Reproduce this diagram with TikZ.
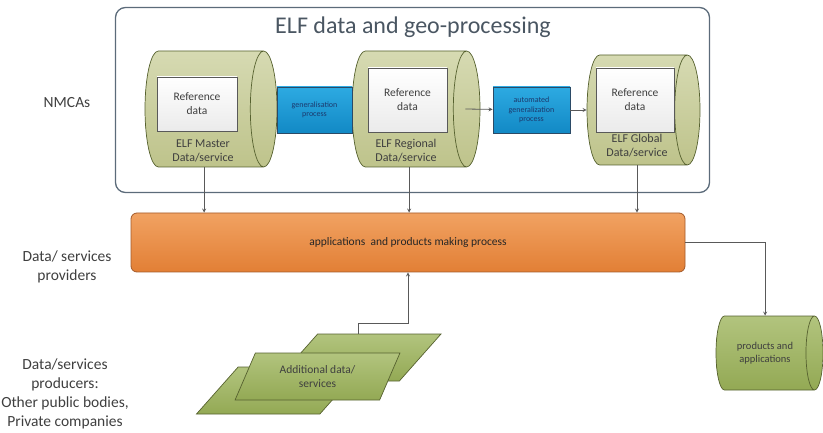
\documentclass[tikz,border=0pt]{standalone}
\usepackage{fontspec}
\setmainfont{Carlito}
\usepackage{tikz}
\usetikzlibrary{shapes.geometric}
\definecolor{edgegray}{HTML}{5C6B7A}
\definecolor{linegray}{HTML}{595959}
\definecolor{labgray}{HTML}{3F3F3F}
\definecolor{drumedge}{HTML}{56612F}
\definecolor{paletop}{HTML}{D6DAB2}
\definecolor{palebot}{HTML}{BEC38B}
\definecolor{olivetop}{HTML}{B2C47E}
\definecolor{olivebot}{HTML}{93A954}
\definecolor{bluetop}{HTML}{2DAAE2}
\definecolor{bluebot}{HTML}{1289C5}
\definecolor{blueedge}{HTML}{2B4A66}
\definecolor{bluetext}{HTML}{1C3A6E}
\definecolor{orangetop}{HTML}{F1A262}
\definecolor{orangebot}{HTML}{E27F35}
\definecolor{orangeedge}{HTML}{A35A2A}
\tikzset{%
	drum/.style={cylinder,aspect=0.23,anchor=shape center,draw=drumedge,line width=0.7pt,inner sep=0pt,name=#1},
	pale/.style={top color=paletop,bottom color=palebot},
	olive/.style={top color=olivetop,bottom color=olivebot},
	refbox/.style={rectangle,draw=linegray,line width=0.7pt,top color=white,bottom color=black!8,
		align=center,font=\fontsize{11.5}{14}\selectfont,text=labgray,name=#1},
	drumtext/.style={align=center,font=\fontsize{12}{14}\selectfont,text=labgray,name=#1},
	process/.style={rectangle,draw=blueedge,line width=0.7pt,top color=bluetop,bottom color=bluebot,
		minimum height=46,inner sep=0pt,align=center,font=\fontsize{8}{9.5}\selectfont,text=bluetext,name=#1},
	slab/.style={trapezium,trapezium left angle=63,trapezium right angle=117,trapezium stretches=true,
		minimum width=165,minimum height=47,inner sep=2pt,draw=drumedge,line width=0.7pt,olive,name=#1}
}

\begin{document}
\begin{tikzpicture}[x=1pt,y=-1pt,>=stealth,
		arr/.style={->,draw=linegray,line width=0.8pt},
		side/.style={align=center,font=\fontsize{15.5}{19}\selectfont,text=labgray,name=#1}]
	\useasboundingbox (0,0) rectangle (823,433);
	\node [draw=edgegray,line width=1.3pt,rounded corners=10pt,minimum width=594,minimum height=185,name=outer] at (412.5,100) {};
	\node [font=\fontsize{24}{28}\selectfont,text=edgegray!80!black,name=title] at (413,27) {ELF data and geo-processing};
	\node [side=nmca] at (67,103) {NMCAs};
	\node [side=prov] at (67,267) {Data/ services\\providers};
	\node [side=maker] at (65,394) {Data/services\\producers:\\Other public bodies,\\Private companies};
	\node [drum=master,pale,text height=58pt,text depth=58pt,minimum height=132] at (211,109) {};
	\node [drum=regional,pale,text height=58pt,text depth=58pt,minimum height=128] at (416,109) {};
	\node [drum=global,pale,text height=55pt,text depth=55pt,minimum height=113] at (643.5,110) {};
	\node [refbox=mref,minimum width=80,minimum height=54] at (197,104) {Reference\\data};
	\node [refbox=rref,minimum width=79,minimum height=64] at (407.5,100) {Reference\\data};
	\node [refbox=gref,minimum width=78,minimum height=64] at (635,100) {Reference\\data};
	\node [drumtext=mtxt] at (203,151) {ELF Master\\Data/service};
	\node [drumtext=rtxt] at (406,151) {ELF Regional\\Data/service};
	\node [drumtext=gtxt] at (637,146) {ELF Global\\Data/service};
	\node [process=gen,minimum width=75] at (314.5,110) {generalisation\\process};
	\node [process=autogen,minimum width=77] at (531.5,110) {automated\\generalization\\process};
	\draw [arr] ([xshift=-15pt]regional.east) -- (autogen);
	\draw [arr] (autogen) -- (global);
	\node [rectangle,draw=orangeedge,line width=0.8pt,rounded corners=6pt,top color=orangetop,bottom color=orangebot,
		minimum width=554,minimum height=59,font=\fontsize{11.5}{14}\selectfont,text=black!85,name=apps] at (408,242.5) {applications\ \ and products making process};
	\draw [arr] (master.south) -- (master.south |- apps.north);
	\draw [arr] (regional.south) -- (regional.south |- apps.north);
	\draw [arr] (global.south) -- (global.south |- apps.north);
	\node [drum=prod,olive,text height=37pt,text depth=37pt,minimum height=107] at (769.5,353) {};
	\node [drumtext=prodtxt,font=\fontsize{10.5}{12.5}\selectfont] at (765,353) {products and\\applications};
	\draw [arr] (apps.east) -| (prod.north);
	\node [slab=back] at (358.5,357.5) {};
	\node [slab=low] at (279,390.5) {};
	\node [slab=mid,align=center,font=\fontsize{11.5}{13.5}\selectfont,text=labgray] at (317.5,376.5) {Additional data/\\services};
	\draw [arr] (back.north) -- ++(0,-10) -| (apps.south);
\end{tikzpicture}
\end{document}
